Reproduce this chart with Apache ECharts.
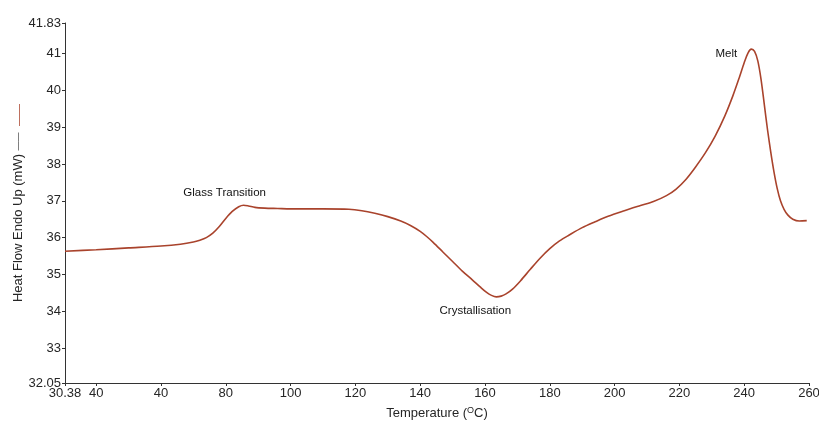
<!DOCTYPE html>
<html>
<head>
<meta charset="utf-8">
<script src="https://cdn.jsdelivr.net/npm/echarts@6/dist/echarts.min.js"></script>
<style>
  html, body { margin: 0; padding: 0; background: #fff; }
  #chart { width: 819px; height: 425px; }
</style>
</head>
<body>
<div id="chart"></div>
<script>
// DSC trace: temperature (°C) vs heat flow (mW)
const temperature = [
  30.38, 40, 50, 60, 66, 70, 72, 74, 76, 78, 80, 82, 84, 85.5, 87, 89, 92, 96,
  100, 110, 118, 122, 126, 130, 134, 137, 140, 142, 144, 147, 150, 153, 156, 158.5, 160.5,
  162, 163.5, 165, 166.5, 168.5, 171, 174, 177, 180, 183, 186, 190, 194, 198,
  203, 208, 212, 216, 219, 222, 225, 228, 231, 234, 236.5, 238.5, 240, 241.2,
  242.2, 243.2, 244.2, 245.2, 246.2, 247.2, 248.2, 249.2, 250.2, 251.2, 252.3, 253.5, 255, 257, 259.3
];
const heatFlow = [
  35.63, 35.67, 35.72, 35.77, 35.82, 35.88, 35.93, 36.00, 36.12, 36.30, 36.52, 36.71, 36.84, 36.88, 36.86, 36.82, 36.80, 36.79,
  36.78, 36.78, 36.77, 36.73, 36.66, 36.57, 36.45, 36.33, 36.17, 36.03, 35.87, 35.61, 35.35, 35.09, 34.86, 34.66, 34.51,
  34.43, 34.39, 34.41, 34.47, 34.60, 34.83, 35.14, 35.44, 35.70, 35.91, 36.07, 36.27, 36.43, 36.58,
  36.73, 36.87, 36.98, 37.14, 37.32, 37.58, 37.92, 38.30, 38.75, 39.30, 39.85, 40.35, 40.75, 41.02,
  41.12, 41.06, 40.80, 40.30, 39.62, 38.93, 38.32, 37.78, 37.33, 37.00, 36.77, 36.61, 36.50, 36.45, 36.46
];

// Axis ticks and their printed labels
const xTickValues = [30.38, 40, 60, 80, 100, 120, 140, 160, 180, 200, 220, 240, 260];
const xTickLabels = ['30.38', '40', '40', '80', '100', '120', '140', '160', '180', '200', '220', '240', '260'];
const yTickValues = [32.05, 33, 34, 35, 36, 37, 38, 39, 40, 41, 41.83];
const yTickLabels = ['32.05', '33', '34', '35', '36', '37', '38', '39', '40', '41', '41.83'];

// Annotated events: [temperature, heat flow, text]
const events = [
  [85.5, 36.88, 'Glass Transition'],
  [163.5, 34.39, 'Crystallisation'],
  [242.2, 41.12, 'Melt']
];
const eventOffsets = [[-19, -12], [-21, 14], [-25, 5]];

const lineColor = '#a9432c';
const inkColor = '#262626';
const fontFamily = 'Liberation Sans, Arial, sans-serif';

const chart = echarts.init(document.getElementById('chart'), null, { renderer: 'canvas' });

chart.setOption({
  animation: false,
  backgroundColor: '#ffffff',
  grid: { left: 65, right: 10, top: 23, bottom: 42, containLabel: false, outerBoundsMode: 'none' },
  xAxis: {
    type: 'value',
    min: 30.38,
    max: 260,
    name: 'Temperature ({sup|O}C)',
    nameLocation: 'middle',
    nameGap: 23,
    nameMoveOverlap: false,
    nameTextStyle: {
      color: inkColor, fontSize: 13, fontFamily: fontFamily,
      rich: { sup: { fontSize: 9, verticalAlign: 'top', padding: [0, 0, 6, 0], color: inkColor, fontFamily: fontFamily } }
    },
    splitLine: { show: false },
    axisLine: { show: true, onZero: false, lineStyle: { color: '#333', width: 1 } },
    axisTick: { show: true, customValues: xTickValues, length: 3, lineStyle: { color: '#333' } },
    axisLabel: {
      customValues: xTickValues,
      color: inkColor, fontSize: 13, fontFamily: fontFamily, margin: 4,
      formatter: function (v) {
        const i = xTickValues.findIndex(t => Math.abs(t - v) < 1e-6);
        return i >= 0 ? xTickLabels[i] : '';
      }
    }
  },
  yAxis: {
    type: 'value',
    min: 32.05,
    max: 41.83,
    name: '{t|Heat Flow Endo Up (mW)} {k|——}  {r|——}',
    nameLocation: 'middle',
    nameGap: 40,
    nameRotate: 90,
    nameMoveOverlap: false,
    nameTextStyle: {
      rich: {
        t: { color: inkColor, fontSize: 13, fontFamily: fontFamily },
        k: { color: '#333', fontSize: 9, fontFamily: fontFamily },
        r: { color: lineColor, fontSize: 11, fontFamily: fontFamily }
      }
    },
    splitLine: { show: false },
    axisLine: { show: true, onZero: false, lineStyle: { color: '#333', width: 1 } },
    axisTick: { show: true, customValues: yTickValues, length: 3, lineStyle: { color: '#333' } },
    axisLabel: {
      customValues: yTickValues,
      color: inkColor, fontSize: 13, fontFamily: fontFamily, margin: 4,
      formatter: function (v) {
        const i = yTickValues.findIndex(t => Math.abs(t - v) < 1e-6);
        return i >= 0 ? yTickLabels[i] : '';
      }
    }
  },
  series: [{
    type: 'line',
    data: temperature.map((t, i) => [t, heatFlow[i]]),
    showSymbol: false,
    smooth: 0.3,
    lineStyle: { color: lineColor, width: 1.6 },
    markPoint: {
      symbol: 'circle',
      symbolSize: 0,
      silent: true,
      data: events.map((e, i) => ({
        coord: [e[0], e[1]],
        label: {
          show: true,
          formatter: e[2],
          position: 'inside',
          offset: eventOffsets[i],
          color: '#111',
          fontSize: 11.5,
          fontFamily: fontFamily
        }
      }))
    }
  }]
});
</script>
</body>
</html>
